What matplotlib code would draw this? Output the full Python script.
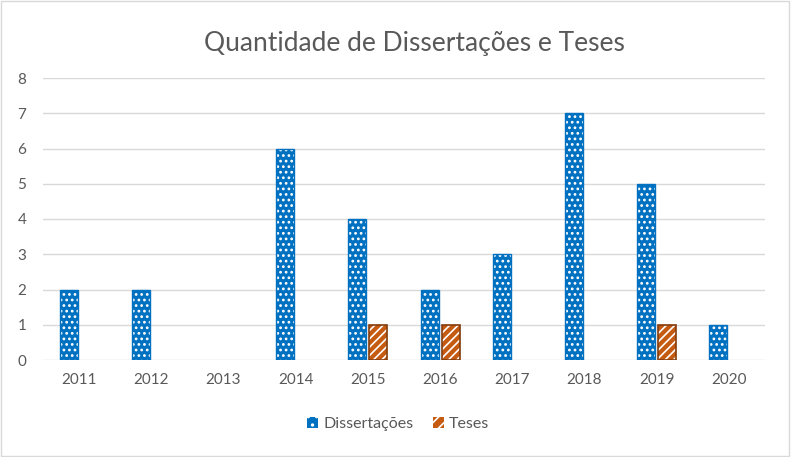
import matplotlib
matplotlib.use("Agg")
import matplotlib.pyplot as plt
from matplotlib.patches import Rectangle, Patch
import numpy as np

plt.rcParams['font.family'] = ['Lato', 'DejaVu Sans']

years = ['2011', '2012', '2013', '2014', '2015', '2016', '2017', '2018', '2019', '2020']
dissertacoes = [2, 2, 0, 6, 4, 2, 3, 7, 5, 1]
teses = [0, 0, 0, 0, 1, 1, 0, 0, 1, 0]

blue = '#0070c0'
orange = '#c55a11'
brown = '#843c0c'
txt = '#595959'

fig = plt.figure(figsize=(7.91, 4.57), dpi=100)
ax = fig.add_axes([43/791, 1-360/457, (765-43)/791, (360-78)/457])

x = np.arange(len(years))
w = 0.25
plt.rcParams['hatch.linewidth'] = 1.2


def draw(offset, vals, face, edge, hatch, lw):
    vals = np.asarray(vals, dtype=float)
    keep = vals > 0
    xs = x[keep] + offset
    ax.bar(xs, vals[keep], w, color=face, edgecolor='white', hatch=hatch, linewidth=0, zorder=3)
    ax.bar(xs, vals[keep], w, fill=False, edgecolor=edge, linewidth=lw, zorder=4)


draw(-w/2 - 0.02, dissertacoes, blue, blue, '...', 1)
draw(w/2 + 0.02, teses, orange, brown, '////', 1.2)

ax.set_xlim(-0.5, len(years) - 0.5)
ax.set_ylim(0, 8)
ax.set_yticks(range(0, 9))
ax.set_xticks(x)
ax.set_xticklabels(years)
ax.grid(axis='y', color='#d9d9d9', linewidth=1, zorder=0)
ax.set_axisbelow(True)
for s in ax.spines.values():
    s.set_visible(False)
ax.tick_params(axis='both', length=0, labelsize=11, labelcolor=txt)
ax.tick_params(axis='x', pad=9)
ax.tick_params(axis='y', pad=12)

fig.text(414/791, 1-43/457, 'Quantidade de Dissertações e Teses', ha='center', va='center',
         fontsize=19, color=txt)

handles = [Patch(facecolor=blue, edgecolor='white', hatch='..', linewidth=0),
           Patch(facecolor=orange, edgecolor='white', hatch='///', linewidth=0)]
fig.legend(handles, ['Dissertações', 'Teses'], loc='center', bbox_to_anchor=(398/791, 1-424/457),
           ncol=2, frameon=False, fontsize=11.5, labelcolor=txt, handlelength=0.7, handleheight=0.7,
           handletextpad=0.3, columnspacing=1.2)

fig.add_artist(Rectangle((0.001, 0.002), 0.997, 0.996, transform=fig.transFigure, fill=False,
                         edgecolor='#d9d9d9', linewidth=1))

fig.savefig('out.png', dpi=100)
